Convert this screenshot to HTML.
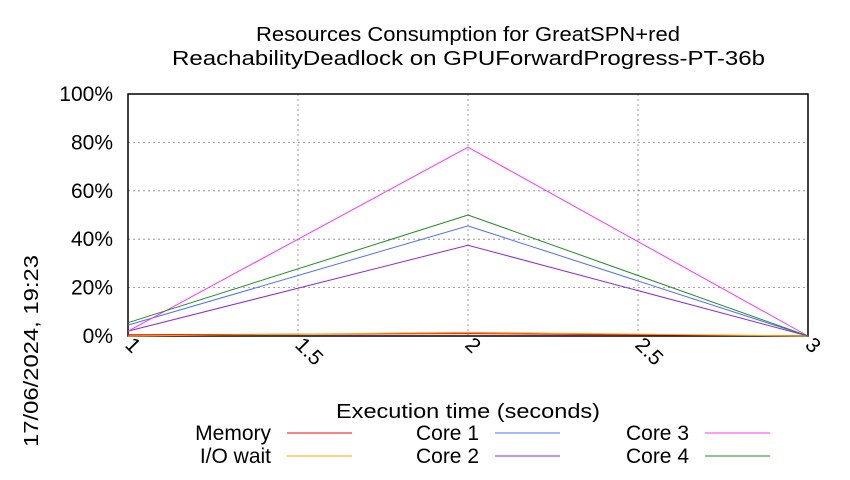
<!DOCTYPE html>
<html><head><meta charset="utf-8"><style>
body{margin:0;background:#fff}
svg text{font-family:"Liberation Sans",sans-serif;fill:#000}
</style></head><body>
<svg id="chart" width="850" height="475" xmlns="http://www.w3.org/2000/svg">
<text x="256" y="41" font-size="20" textLength="424" lengthAdjust="spacingAndGlyphs">Resources Consumption for GreatSPN+red</text>
<text x="172" y="65" font-size="20" textLength="593" lengthAdjust="spacingAndGlyphs">ReachabilityDeadlock on GPUForwardProgress-PT-36b</text>
<g id="grid"></g>
<rect x="128" y="94" width="680" height="242" fill="none" stroke="#000" stroke-width="1.5"/>
<g id="series"></g>
<g id="axes"></g>
<text x="336" y="418" font-size="20" textLength="264" lengthAdjust="spacingAndGlyphs">Execution time (seconds)</text>
<text transform="translate(38,447) rotate(-90)" font-size="20" textLength="192" lengthAdjust="spacingAndGlyphs">17/06/2024, 19:23</text>
<g id="legend"></g>
</svg>
<script>
const xs=[1,2,3];
const seriesNames=["Memory","I/O wait","Core 1","Core 2","Core 3","Core 4"];
const colors=["#ff0000","#ffa500","#4f6fff","#8a2be2","#ff33ff","#228b22"];
const memory=[0.5,1,0];
const ioWait=[0,1.5,0];
const core1=[4.5,45.5,0];
const core2=[2,37.5,0];
const core3=[2,78,0];
const core4=[5.5,50,0];
const yTicks=[0,20,40,60,80,100];
const xTicks=[1,1.5,2,2.5,3];
const xTickLabels=["1","1.5","2","2.5","3"];
const X=v=>128+(v-1)/2*680, Y=v=>336-v/100*242;
const NS="http://www.w3.org/2000/svg";
function mk(t,a,p){const e=document.createElementNS(NS,t);for(const k in a)e.setAttribute(k,a[k]);p.appendChild(e);return e;}
const grid=document.getElementById('grid'),axes=document.getElementById('axes'),ser=document.getElementById('series'),leg=document.getElementById('legend');
yTicks.forEach(t=>{
 if(t>0&&t<100){const l=mk('line',{x1:128,x2:808,y1:Y(t),y2:Y(t),stroke:'#888','stroke-dasharray':'2,3','stroke-width':0.8},grid);
 
 }
 const tx=mk('text',{x:113,y:Y(t)+7,'font-size':21,'text-anchor':'end'},axes);tx.textContent=t+'%';
 
 
});
xTicks.forEach((t,i)=>{
 if(i>0&&i<xTicks.length-1){const l=mk('line',{x1:X(t),x2:X(t),y1:94,y2:336,stroke:'#888','stroke-dasharray':'2,3','stroke-width':0.8},grid);
 
 }
 const tx=mk('text',{x:0,y:0,'font-size':21,transform:`translate(${X(t)-4},${346}) rotate(45)`},axes);tx.textContent=xTickLabels[i];
 
 
});
const data=[memory,ioWait,core1,core2,core3,core4];
data.forEach((d,i)=>{
 const p=mk('polyline',{points:d.map((v,j)=>X(xs[j])+','+Y(v)).join(' '),fill:'none',stroke:colors[i],'stroke-width':1},ser);
 
 
});
const lx=[271,271,479,479,689,689],ly=[433,456,433,456,433,456];
seriesNames.forEach((n,i)=>{
 const g=mk('g',{},leg);
 
 
 const t=mk('text',{x:lx[i],y:ly[i]+7,'font-size':21,'text-anchor':'end'},g);t.textContent=n;
 mk('line',{x1:lx[i]+16,x2:lx[i]+81,y1:ly[i],y2:ly[i],stroke:colors[i],'stroke-width':1},g);
});
</script>
</body></html>
